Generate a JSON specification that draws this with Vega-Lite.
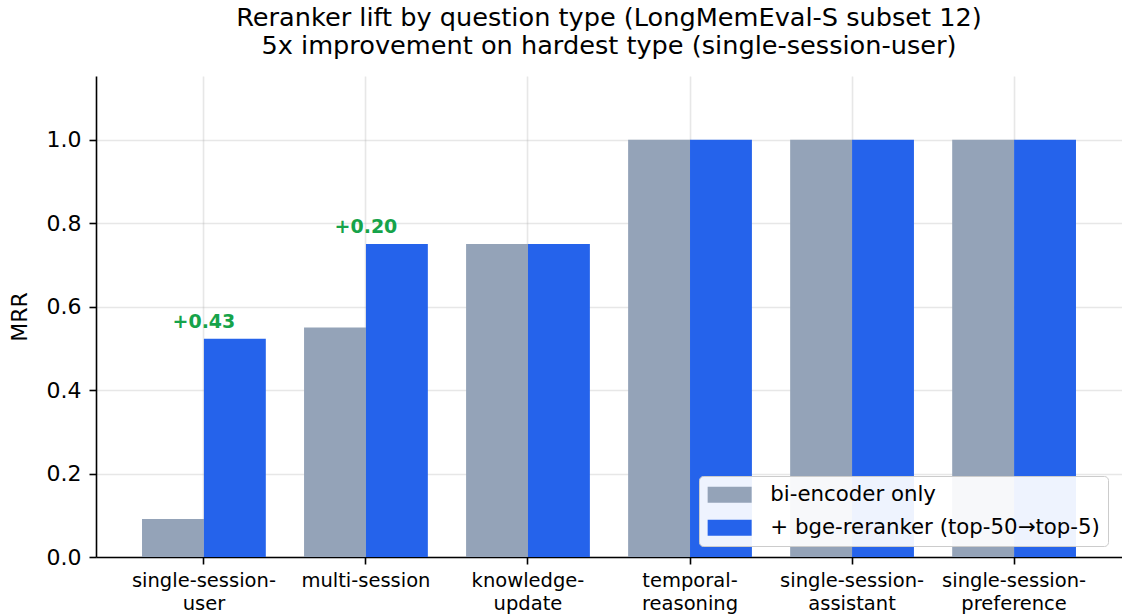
{
  "$schema": "https://vega.github.io/schema/vega-lite/v6.json",
  "autosize": {"type": "none"},
  "width": 1026,
  "height": 481,
  "padding": {"left": 96, "top": 76, "right": 0, "bottom": 57},
  "background": "white",
  "config": {
    "view": {"stroke": null},
    "font": "DejaVu Sans",
    "axis": {
      "labelFont": "DejaVu Sans",
      "titleFont": "DejaVu Sans",
      "labelColor": "black",
      "titleColor": "black",
      "domainColor": "black",
      "domainWidth": 1.6,
      "tickColor": "black",
      "tickWidth": 1.6,
      "tickSize": 7,
      "gridColor": "#b0b0b0",
      "gridOpacity": 0.3,
      "gridWidth": 1.6,
      "zindex": 1
    }
  },
  "title": {
    "text": ["Reranker lift by question type (LongMemEval-S subset 12)", "5x improvement on hardest type (single-session-user)"],
    "font": "DejaVu Sans",
    "fontSize": 25.6,
    "fontWeight": "normal",
    "color": "black",
    "lineHeight": 28,
    "anchor": "middle",
    "frame": "group",
    "offset": 16
  },
  "datasets": {
    "bars": [
      {"type": "single-session-user", "method": "bi-encoder only", "mrr": 0.091},
      {"type": "single-session-user", "method": "+ bge-reranker (top-50→top-5)", "mrr": 0.523},
      {"type": "multi-session", "method": "bi-encoder only", "mrr": 0.55},
      {"type": "multi-session", "method": "+ bge-reranker (top-50→top-5)", "mrr": 0.75},
      {"type": "knowledge-update", "method": "bi-encoder only", "mrr": 0.75},
      {"type": "knowledge-update", "method": "+ bge-reranker (top-50→top-5)", "mrr": 0.75},
      {"type": "temporal-reasoning", "method": "bi-encoder only", "mrr": 1.0},
      {"type": "temporal-reasoning", "method": "+ bge-reranker (top-50→top-5)", "mrr": 1.0},
      {"type": "single-session-assistant", "method": "bi-encoder only", "mrr": 1.0},
      {"type": "single-session-assistant", "method": "+ bge-reranker (top-50→top-5)", "mrr": 1.0},
      {"type": "single-session-preference", "method": "bi-encoder only", "mrr": 1.0},
      {"type": "single-session-preference", "method": "+ bge-reranker (top-50→top-5)", "mrr": 1.0}
    ],
    "lifts": [
      {"type": "single-session-user", "mrr": 0.523, "label": "+0.43"},
      {"type": "multi-session", "mrr": 0.75, "label": "+0.20"}
    ]
  },
  "encoding": {
    "x": {
      "field": "type",
      "type": "nominal",
      "sort": ["single-session-user", "multi-session", "knowledge-update", "temporal-reasoning", "single-session-assistant", "single-session-preference"],
      "scale": {"paddingInner": 0.236, "paddingOuter": 0.284},
      "axis": {
        "title": null,
        "labelAngle": 0,
        "labelFontSize": 19.5,
        "labelLineHeight": 23,
        "labelPadding": 7,
        "bandPosition": 0.5,
        "grid": true,
        "labelExpr": "length(datum.label) > 13 ? [substring(datum.label, 0, lastindexof(datum.label, '-') + 1), substring(datum.label, lastindexof(datum.label, '-') + 1)] : datum.label"
      }
    },
    "y": {
      "field": "mrr",
      "type": "quantitative",
      "scale": {"domain": [0, 1.153], "nice": false, "zero": true},
      "axis": {
        "title": "MRR",
        "titleFontSize": 22,
        "titleFontWeight": "normal",
        "titleX": -77,
        "titleY": 240.5,
        "titleAngle": -90,
        "titleBaseline": "middle",
        "titleAlign": "center",
        "values": [0, 0.2, 0.4, 0.6, 0.8, 1.0],
        "format": ".1f",
        "labelFontSize": 22,
        "labelPadding": 8,
        "grid": true
      }
    }
  },
  "layer": [
    {
      "data": {"name": "bars"},
      "mark": {"type": "bar"},
      "encoding": {
        "xOffset": {
          "field": "method",
          "type": "nominal",
          "sort": ["bi-encoder only", "+ bge-reranker (top-50→top-5)"],
          "scale": {"paddingInner": 0, "paddingOuter": 0}
        },
        "color": {
          "field": "method",
          "type": "nominal",
          "sort": ["bi-encoder only", "+ bge-reranker (top-50→top-5)"],
          "scale": {"domain": ["bi-encoder only", "+ bge-reranker (top-50→top-5)"], "range": ["#94a3b8", "#2563eb"]},
          "legend": {
            "title": null,
            "orient": "none",
            "legendX": 603,
            "legendY": 400,
            "direction": "vertical",
            "symbolType": "M-1,-0.8H3.4V0.8H-1Z",
            "symbolSize": 400,
            "symbolStrokeWidth": 0,
            "symbolOpacity": 1,
            "labelFont": "DejaVu Sans",
            "labelFontSize": 21.3,
            "labelColor": "black",
            "labelLimit": 0,
            "labelOffset": 42,
            "rowPadding": 11,
            "padding": 8,
            "fillColor": "rgba(255,255,255,0.92)",
            "strokeColor": "#cccccc",
            "cornerRadius": 4,
            "zindex": 2
          }
        }
      }
    },
    {
      "data": {"name": "lifts"},
      "mark": {"type": "text", "color": "#16a34a", "fontWeight": "bold", "fontSize": 19, "font": "DejaVu Sans", "baseline": "alphabetic", "dy": -11},
      "encoding": {
        "text": {"field": "label"}
      }
    }
  ]
}
